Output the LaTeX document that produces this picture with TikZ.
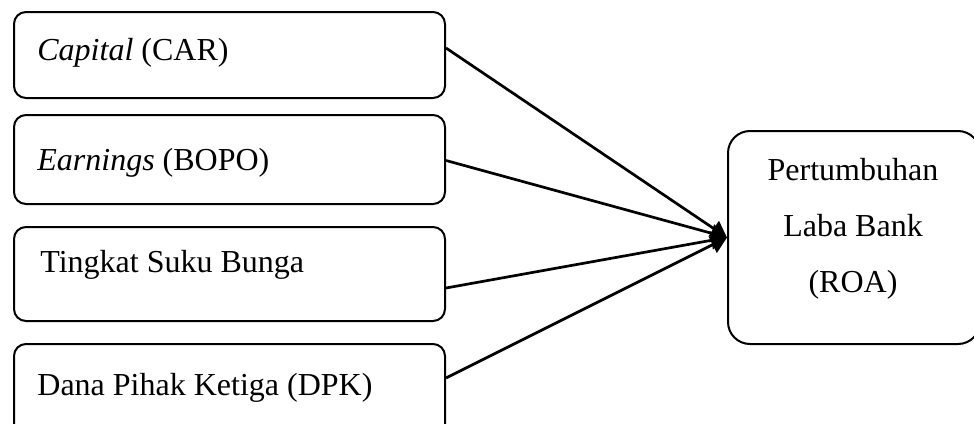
\documentclass[tikz,border=0pt]{standalone}
\usepackage{fontspec}
\setmainfont{Liberation Serif}
\usetikzlibrary{arrows.meta}
\begin{document}
\begin{tikzpicture}[x=0.5pt,y=-0.5pt,
  box/.style={draw, line width=1pt, rounded corners=6pt, inner sep=0pt, minimum width=215.5pt, anchor=north west},
  bigbox/.style={draw, line width=1pt, rounded corners=11pt, inner sep=0pt, minimum width=126pt, minimum height=106.5pt, anchor=north west},
  lbl/.style={anchor=base west, inner sep=0pt, font=\fontsize{16}{19}\selectfont},
  rlbl/.style={anchor=base, inner sep=0pt, font=\fontsize{16}{19}\selectfont},
  conn/.style={line width=1.35pt, -{Triangle[length=8pt,width=9pt]}}]
\useasboundingbox (0,0) rectangle (974,423);
\clip (0,0) rectangle (974,423);
\node[box, minimum height=43pt] (b1) at (13,11) {};
\node[box, minimum height=44.5pt] (b2) at (13,114) {};
\node[box, minimum height=47pt] (b3) at (13,226) {};
\node[box, minimum height=47pt] (b4) at (13,343) {};
\node[bigbox] (rb) at (727,130) {};
\node[lbl] (t1) at (37,60) {\textit{Capital} (CAR)};
\node[lbl] (t2) at (37,170) {\textit{Earnings} (BOPO)};
\node[lbl] (t3) at (40,272) {Tingkat Suku Bunga};
\node[lbl] (t4) at (37,395) {Dana Pihak Ketiga (DPK)};
\node[rlbl] (r1) at (853,180) {Pertumbuhan};
\node[rlbl] (r2) at (853,236) {Laba Bank};
\node[rlbl] (r3) at (853,292) {(ROA)};
\draw[conn] ([yshift=3.5pt]b1.east) -- (rb.west);
\draw[conn] ([yshift=-0.5pt]b2.east) -- (rb.west);
\draw[conn] ([yshift=-7pt]b3.east) -- (rb.west);
\draw[conn] ([yshift=6.5pt]b4.east) -- (rb.west);
\end{tikzpicture}
\end{document}
